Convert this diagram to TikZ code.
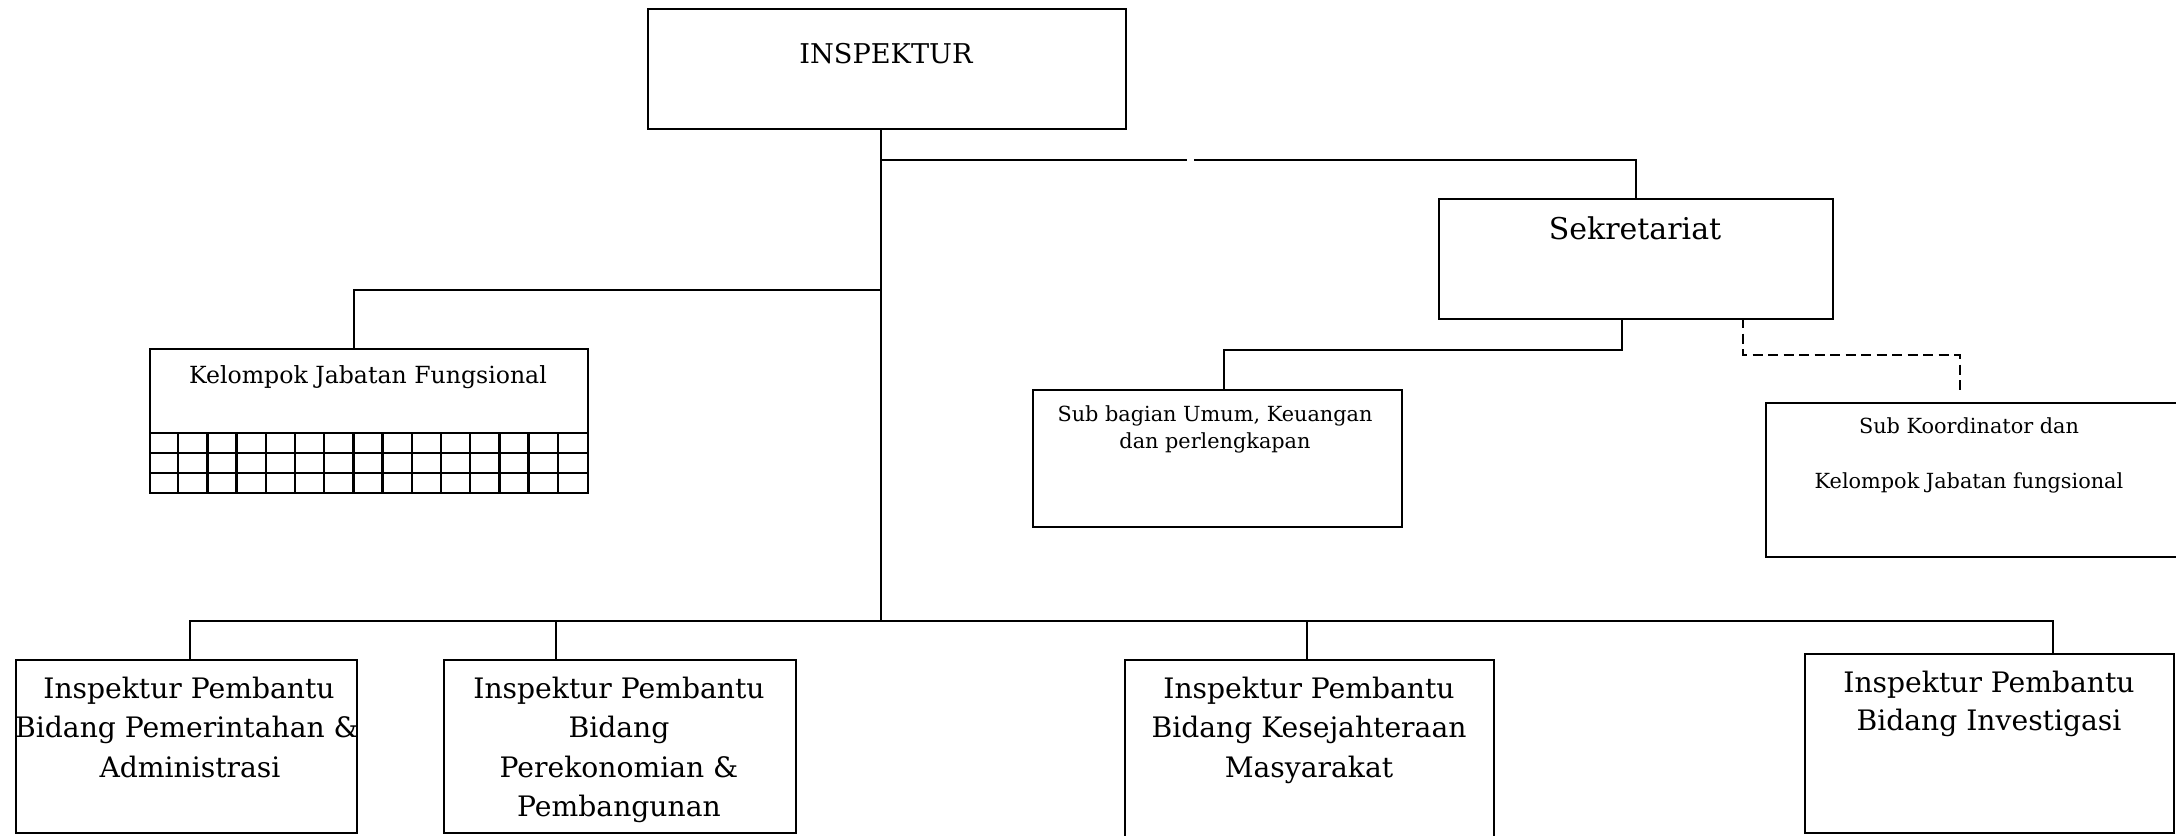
\documentclass[tikz,border=0pt]{standalone}
\usepackage{fontspec}
\setmainfont{DejaVu Serif}
\usetikzlibrary{calc}

\tikzset{
  unitbox/.style={draw, line width=1.15pt, inner sep=0pt, anchor=north west},
  wire/.style={line width=1.15pt},
  dashwire/.style={line width=1.15pt, dash pattern=on 5pt off 2.75pt},
  lbl/.style={anchor=base, inner sep=0pt},
  fTop/.style={font=\fontsize{13.6}{15}\selectfont},
  fSek/.style={font=\fontsize{15}{19}\selectfont},
  fKjf/.style={font=\fontsize{11.8}{14}\selectfont},
  fSub/.style={font=\fontsize{10.4}{12.5}\selectfont},
  fBot/.style={font=\fontsize{14.1}{16}\selectfont},
}

\begin{document}
\begin{tikzpicture}[x=0.5pt, y=-0.5pt]
\useasboundingbox (0,0) rectangle (2176,836);
\clip (0,0) rectangle (2176,836);

% ---- boxes (size in px, 1px = 0.5pt) ----
\node[unitbox, minimum width=239pt, minimum height=60pt] (insp) at (647,8) {};
\node[unitbox, minimum width=197pt, minimum height=60pt] (sek) at (1438,198) {};
\node[unitbox, minimum width=219pt, minimum height=72pt] (kjf) at (149,348) {};
\node[unitbox, minimum width=184.5pt, minimum height=68.5pt] (sub) at (1032,389) {};
\node[unitbox, minimum width=220pt, minimum height=77pt] (koor) at (1765,402) {};
\node[unitbox, minimum width=170.5pt, minimum height=86.5pt] (ip1) at (15,659) {};
\node[unitbox, minimum width=176pt, minimum height=86.5pt] (ip2) at (443,659) {};
\node[unitbox, minimum width=184.5pt, minimum height=95pt] (ip3) at (1124,659) {};
\node[unitbox, minimum width=184.5pt, minimum height=89.5pt] (ip4) at (1804,653) {};

% ---- grid below Kelompok Jabatan Fungsional ----
\foreach \r in {433,453,473} \draw[wire] (149,\r) -- (587,\r);
\foreach \c in {1,...,14} \draw[wire] ({149+\c*438/15},433) -- ({149+\c*438/15},492);

% ---- connection points ----
\coordinate (jS) at (881,160);
\coordinate (jK) at (881,290);
\coordinate (jB) at (881,621);
\coordinate (gapL) at (1187,160);
\coordinate (gapR) at (1194,160);
\coordinate (sekIn) at (1636,198);
\coordinate (kjfIn) at (354,348);
\coordinate (sekOutA) at (1622,318);
\coordinate (subIn) at (1224,389);
\coordinate (sekOutB) at (1743,318);
\coordinate (koorEnd) at (1960,393);
\coordinate (b1) at (190,659);
\coordinate (b2) at (556,659);
\coordinate (b3) at (1307,659);
\coordinate (b4) at (2053,653);

% ---- connectors ----
\draw[wire] (insp.south -| jB) -- (jB);
\draw[wire] (jS) -- (gapL);
\draw[wire] (gapR) -| (sekIn);
\draw[wire] (jK) -| (kjfIn);
\draw[wire] (sekOutA) |- ($(subIn)+(0,-39)$) -- (subIn);
\draw[dashwire] (sekOutB) |- ($(koorEnd)+(0,-38)$) -- (koorEnd);
\draw[wire] (b1) |- (b4 |- jB) -- (b4);
\draw[wire] (b2 |- jB) -- (b2);
\draw[wire] (b3 |- jB) -- (b3);

% ---- labels ----
\node[lbl, fTop] (tInsp) at (886,63) {INSPEKTUR};
\node[lbl, fSek] (tSek) at (1635,239) {Sekretariat};
\node[lbl, fKjf] (tKjf) at (368,383) {Kelompok Jabatan Fungsional};
\node[lbl, fSub] (tSub1) at (1215,421) {Sub bagian Umum, Keuangan};
\node[lbl, fSub] (tSub2) at (1215,448) {dan perlengkapan};
\node[lbl, fSub] (tKoor1) at (1969,433) {Sub Koordinator dan};
\node[lbl, fSub] (tKoor2) at (1969,488) {Kelompok Jabatan fungsional};

\node[lbl, fBot] (t1a) at (189,698) {Inspektur Pembantu};
\node[lbl, fBot] (t1b) at (187,737) {Bidang Pemerintahan \&};
\node[lbl, fBot] (t1c) at (190,777) {Administrasi};

\node[lbl, fBot] (t2a) at (619,698) {Inspektur Pembantu};
\node[lbl, fBot] (t2b) at (619,737) {Bidang};
\node[lbl, fBot] (t2c) at (619,777) {Perekonomian \&};
\node[lbl, fBot] (t2d) at (619,816) {Pembangunan};

\node[lbl, fBot] (t3a) at (1309,698) {Inspektur Pembantu};
\node[lbl, fBot] (t3b) at (1309,737) {Bidang Kesejahteraan};
\node[lbl, fBot] (t3c) at (1309,777) {Masyarakat};

\node[lbl, fBot] (t4a) at (1989,692) {Inspektur Pembantu};
\node[lbl, fBot] (t4b) at (1989,730) {Bidang Investigasi};
\end{tikzpicture}
\end{document}
